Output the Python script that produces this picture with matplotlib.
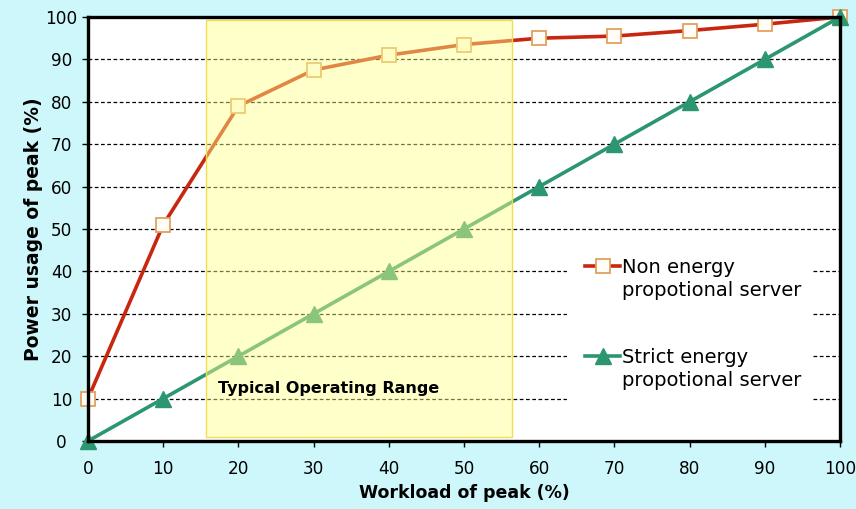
import matplotlib
matplotlib.use("Agg")
import matplotlib.pyplot as plt
from matplotlib.patches import Rectangle

plt.rcParams['font.family'] = ['DejaVu Sans']

workload = [0, 10, 20, 30, 40, 50, 60, 70, 80, 90, 100]
non_prop = [10, 51, 79, 87.5, 91, 93.5, 95, 95.5, 96.8, 98.3, 100]
strict_prop = [0, 10, 20, 30, 40, 50, 60, 70, 80, 90, 100]
yticks = [0, 10, 20, 30, 40, 50, 60, 70, 80, 90, 100]
range_lo, range_hi = 15.7, 56.4
labels_1 = ["Non energy", "Strict energy"]
labels_2 = ["propotional server", "propotional server"]

RED = "#c8260f"
GREEN = "#2b9670"

fig = plt.figure(figsize=(8.56, 5.09), dpi=100, facecolor="#cdf7fb")
ax = fig.add_axes([0.1028, 0.1336, 0.8785, 0.833])
ax.set_facecolor("white")

for y in yticks[1:-1]:
    ax.axhline(y, color="black", lw=0.9, ls=(0, (3, 2)), zorder=1)
# white patch behind the legend hides the grid there
ax.add_patch(Rectangle((63.7, 8.5), 32.6, 38.5, facecolor="white",
                       edgecolor="none", zorder=1.5))

ax.plot(workload, non_prop, color=RED, lw=2.6, marker="s", ms=10,
        mfc="#fffdf6", mec="#e0a060", mew=1.3, zorder=3, clip_on=False,
        label=labels_1[0])
ax.plot(workload, strict_prop, color=GREEN, lw=2.6, marker="^", ms=12,
        mfc=GREEN, mec=GREEN, zorder=3, clip_on=False,
        label=labels_1[1])

# operating range band drawn over the lines
ax.add_patch(Rectangle((range_lo, 1), range_hi - range_lo, 98.3,
                       facecolor="#ffff88", alpha=0.45, edgecolor="none", zorder=4))
ax.add_patch(Rectangle((range_lo, 1), range_hi - range_lo, 98.3,
                       facecolor="none", edgecolor="#eedd55", lw=1.0, zorder=4))
ax.text(17.3, 12.3, "Typical Operating Range", fontsize=11.5, fontweight="bold",
        ha="left", va="center", zorder=5)

ax.set_xlim(0, 100)
ax.set_ylim(0, 100)
ax.set_xticks(workload)
ax.set_yticks(yticks)
ax.tick_params(labelsize=12.2, width=1, direction="out")
ax.tick_params(axis="x", length=4, pad=10)
ax.tick_params(axis="y", length=4, pad=15)
for lab in ax.get_yticklabels():
    lab.set_ha("center")
for sp in ax.spines.values():
    sp.set_linewidth(2.4)
    sp.set_zorder(6)

ax.set_xlabel("Workload of peak (%)", fontsize=12.5, fontweight="bold", labelpad=4)
ax.set_ylabel("Power usage of peak (%)", fontsize=13.5, fontweight="bold", labelpad=2)

leg = ax.legend(loc="upper left", bbox_to_anchor=(0.661, 0.432), frameon=False,
                fontsize=14, handlelength=1.8, handletextpad=0.1,
                labelspacing=3.65, borderpad=0, borderaxespad=0)
leg.set_zorder(5)

# second line of each legend label, set under the first
fig.canvas.draw()
W, H = fig.bbox.width, fig.bbox.height
for t, second in zip(leg.get_texts(), labels_2):
    bb = t.get_window_extent()
    fig.text(bb.x0 / W, (bb.y0 - 4) / H, second, fontsize=14,
             ha="left", va="top", zorder=5)

fig.savefig("out.png", dpi=100, facecolor=fig.get_facecolor())
